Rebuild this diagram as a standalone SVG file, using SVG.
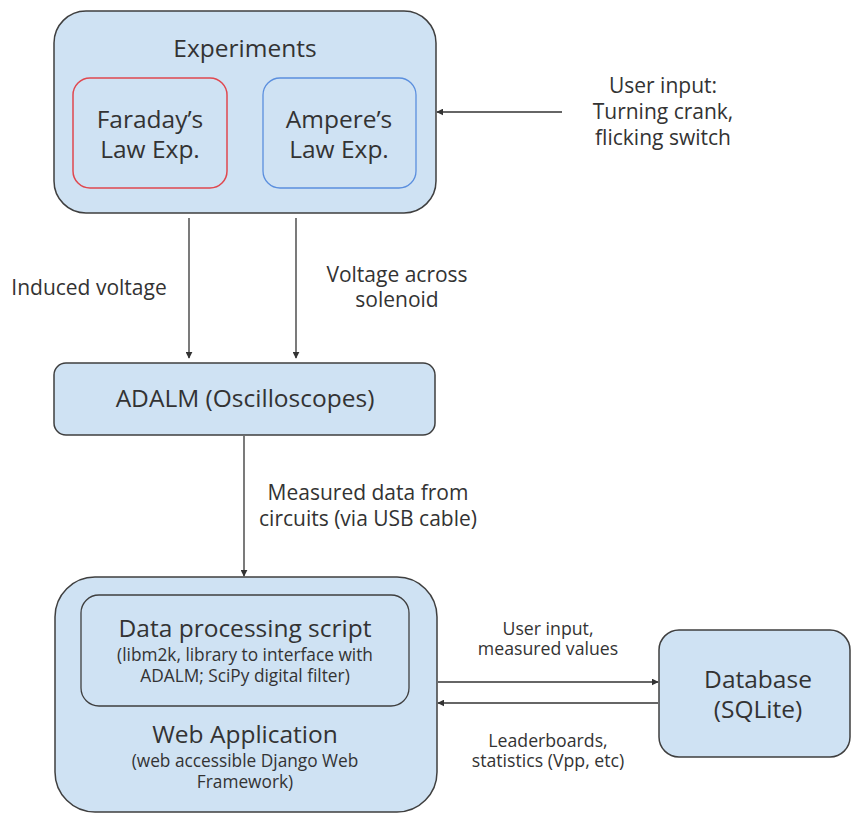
<svg xmlns="http://www.w3.org/2000/svg" width="852" height="814" viewBox="0 0 852 814">
  <style>
    text { font-family: "Open Sans", "Noto Sans", "Liberation Sans", sans-serif; fill: #333333; text-anchor: middle; }
    .box { fill: #cfe2f3; stroke: #3f3f3f; stroke-width: 1.5; }
    .big { font-size: 24.5px; }
    .small { font-size: 17.3px; }
    .lbl { font-size: 21px; }
    .lbl-s { font-size: 17.7px; }
    .edge { stroke: #333333; stroke-width: 1.3; fill: none; marker-end: url(#arrow); }
  </style>
  <defs>
    <marker id="arrow" viewBox="0 0 10 10" refX="9" refY="5" markerWidth="7" markerHeight="7" markerUnits="userSpaceOnUse" orient="auto">
      <path d="M0,0 L10,5 L0,10 z" fill="#333333"/>
    </marker>
  </defs>
  <rect width="852" height="814" fill="#ffffff"/>

  <g id="experiments">
    <rect class="box" x="54" y="11" width="382" height="202" rx="32"/>
    <text class="big" x="245" y="57">Experiments</text>
  </g>
  <g id="faraday">
    <rect x="73" y="78" width="154" height="110" rx="17" fill="none" stroke="#e0484f" stroke-width="1.5"/>
    <text class="big" x="150" y="128">Faraday’s</text>
    <text class="big" x="150" y="158">Law Exp.</text>
  </g>
  <g id="ampere">
    <rect x="263" y="78" width="153" height="110" rx="17" fill="none" stroke="#5b8fde" stroke-width="1.3"/>
    <text class="big" x="339" y="128">Ampere’s</text>
    <text class="big" x="339" y="158">Law Exp.</text>
  </g>
  <g id="adalm">
    <rect class="box" x="54" y="363" width="381" height="72" rx="12"/>
    <text class="big" x="245" y="407">ADALM (Oscilloscopes)</text>
  </g>
  <g id="webapp">
    <rect class="box" x="55" y="577" width="382" height="235" rx="40"/>
    <text class="big" x="245" y="743">Web Application</text>
    <text class="small" x="245" y="767">(web accessible Django Web</text>
    <text class="small" x="245" y="788">Framework)</text>
  </g>
  <g id="script">
    <rect x="81" y="595" width="328" height="111" rx="18" fill="none" stroke="#3f3f3f" stroke-width="1.3"/>
    <text class="big" x="245" y="637">Data processing script</text>
    <text class="small" x="245" y="661">(libm2k, library to interface with</text>
    <text class="small" x="245" y="682">ADALM; SciPy digital filter)</text>
  </g>
  <g id="database">
    <rect class="box" x="659" y="630" width="191" height="127" rx="20"/>
    <text class="big" x="758" y="688">Database</text>
    <text class="big" x="758" y="718">(SQLite)</text>
  </g>

  <g id="connectors">
    <path class="edge" d="M562,112 H437"/>
    <path class="edge" d="M189,218 V358"/>
    <path class="edge" d="M296,218 V358"/>
    <path class="edge" d="M244,436 V576"/>
    <path class="edge" d="M438,682 H658"/>
    <path class="edge" d="M658,703 H438"/>
  </g>

  <g id="labels">
    <text class="lbl" x="663" y="93">User input:</text>
    <text class="lbl" x="663" y="119">Turning crank,</text>
    <text class="lbl" x="663" y="145">flicking switch</text>
    <text class="lbl" x="89" y="295">Induced voltage</text>
    <text class="lbl" x="397" y="282">Voltage across</text>
    <text class="lbl" x="397" y="307">solenoid</text>
    <text class="lbl" x="368" y="500">Measured data from</text>
    <text class="lbl" x="368" y="526">circuits (via USB cable)</text>
    <text class="lbl-s" x="548" y="635">User input,</text>
    <text class="lbl-s" x="548" y="655">measured values</text>
    <text class="lbl-s" x="548" y="747">Leaderboards,</text>
    <text class="lbl-s" x="548" y="767">statistics (Vpp, etc)</text>
  </g>
</svg>
